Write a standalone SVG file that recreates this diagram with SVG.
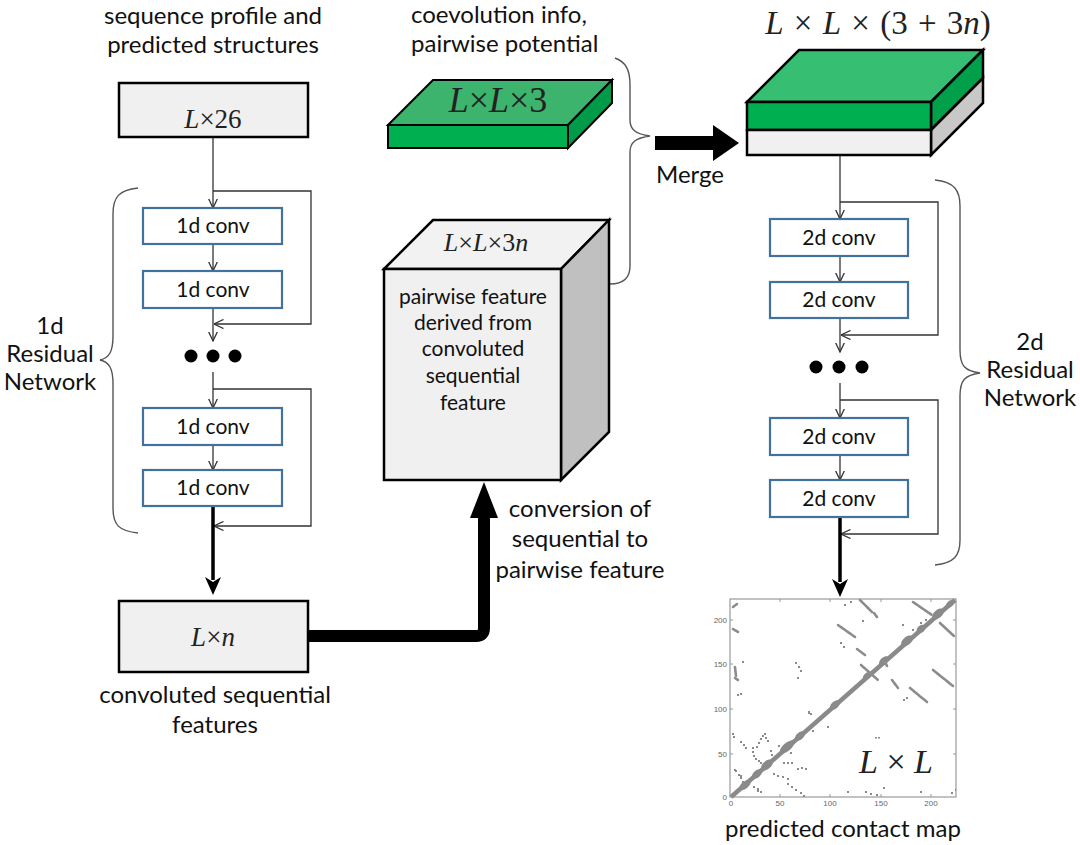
<svg xmlns="http://www.w3.org/2000/svg" width="1080" height="845" viewBox="0 0 1080 845">
<defs>
<style>
.lbl{font-family:Lato,"Liberation Sans",sans-serif;font-size:24px;fill:#111;text-anchor:middle}
.cv{font-family:Lato,"Liberation Sans",sans-serif;font-size:21px;fill:#111;text-anchor:middle}
.math{font-family:"Liberation Serif",serif;fill:#222;text-anchor:middle}
.conv{fill:#fff;stroke:#41719c;stroke-width:2.2}
.gbox{fill:#f0f0f0;stroke:#000;stroke-width:2.5}
.thin{fill:none;stroke:#333;stroke-width:1.3;marker-end:url(#open)}
.brace{fill:none;stroke:#555;stroke-width:1.4}
.strip{stroke:#8c8c8c;stroke-width:2.6;stroke-linecap:round;fill:none;stroke-dasharray:2.5 0.8}
.dot{fill:#8a8a8a}
.ax{font-family:"Liberation Sans",sans-serif;font-size:8px;fill:#666;text-anchor:middle}
</style>
<marker id="open" viewBox="0 0 10 10" refX="9.5" refY="5" markerWidth="10" markerHeight="10" markerUnits="userSpaceOnUse" orient="auto">
<path d="M0,0.5 L9.5,5 L0,9.5" fill="none" stroke="#333" stroke-width="1.3"/>
</marker>
</defs>
<rect width="1080" height="845" fill="#fff"/>

<!-- texts -->
<g id="txt-seq">
<text class="lbl" x="213" y="24">sequence profile and</text>
<text class="lbl" x="213" y="53">predicted structures</text>
</g>
<g id="txt-coev">
<text class="lbl" x="411" y="23" style="text-anchor:start">coevolution info,</text>
<text class="lbl" x="411" y="52" style="text-anchor:start">pairwise potential</text>
</g>
<g id="txt-1dres">
<text class="lbl" x="50" y="334">1d</text>
<text class="lbl" x="50" y="362">Residual</text>
<text class="lbl" x="50" y="390">Network</text>
</g>
<g id="txt-2dres">
<text class="lbl" x="1030" y="350">2d</text>
<text class="lbl" x="1030" y="378">Residual</text>
<text class="lbl" x="1030" y="406">Network</text>
</g>
<g id="txt-merge"><text class="lbl" x="690" y="183">Merge</text></g>
<g id="txt-conversion">
<text class="lbl" x="580" y="517">conversion of</text>
<text class="lbl" x="580" y="547">sequential to</text>
<text class="lbl" x="580" y="578">pairwise feature</text>
</g>
<g id="txt-convseq">
<text class="lbl" x="215" y="703">convoluted sequential</text>
<text class="lbl" x="215" y="733">features</text>
</g>
<g id="txt-contact"><text class="lbl" x="843" y="837">predicted contact map</text></g>

<!-- connectors -->
<g id="connectors">
<line class="thin" x1="213" y1="137" x2="213" y2="208"/>
<line class="thin" x1="213" y1="244" x2="213" y2="271"/>
<line class="thin" x1="213" y1="308" x2="213" y2="341"/>
<path class="thin" d="M213,191 H311 V324 H214"/>
<line class="thin" x1="213" y1="372" x2="213" y2="408"/>
<line class="thin" x1="213" y1="445" x2="213" y2="470"/>
<path class="thin" d="M213,389 H311 V526 H214"/>
<line x1="213" y1="506" x2="213" y2="580" stroke="#000" stroke-width="3.5"/>
<path d="M205,577 L213,595 L221,577 L213,582 Z" fill="#000"/>

<line class="thin" x1="840" y1="155" x2="840" y2="219"/>
<line class="thin" x1="840" y1="256" x2="840" y2="282"/>
<line class="thin" x1="840" y1="318" x2="840" y2="352"/>
<path class="thin" d="M840,202 H938 V335 H841"/>
<line class="thin" x1="840" y1="383" x2="840" y2="418"/>
<line class="thin" x1="840" y1="455" x2="840" y2="480"/>
<path class="thin" d="M840,400 H938 V534 H841"/>
<line x1="840" y1="517" x2="840" y2="582" stroke="#000" stroke-width="3.5"/>
<path d="M832,579 L840,597 L848,579 L840,584 Z" fill="#000"/>

<path d="M308,636 H476 Q484,636 484,628 V514" fill="none" stroke="#000" stroke-width="12"/>
<path d="M470,518 L484,482 L498,518 Z" fill="#000"/>

<path d="M655,136 H713 V125 L739,143 L713,161 V150 H655 Z" fill="#000"/>

<path class="brace" d="M138,188 C119,190 113,197 113,214 L113,336 C113,352 109,358 100,360 C109,362 113,368 113,384 L113,508 C113,525 119,531 138,533"/>
<path class="brace" d="M935,180 C954,182 960,190 960,206 L960,350 C960,366 965,371 980,373 C965,375 960,380 960,396 L960,540 C960,556 954,563 935,565"/>
<path class="brace" d="M615,58 C626,62 630,70 630,85 L630,120 C630,130 636,134 650,136 C636,138 630,142 630,152 L630,266 C630,278 624,284 610,284"/>
</g>

<!-- nodes -->
<g id="n-L26">
<rect class="gbox" x="119" y="83" width="189" height="54"/>
<text class="math" x="213" y="128" font-size="27"><tspan font-style="italic">L</tspan>×26</text>
</g>
<g id="n-1dconv-1"><rect class="conv" x="143" y="208" width="139" height="36"/><text class="cv" x="213" y="233">1d conv</text></g>
<g id="n-1dconv-2"><rect class="conv" x="143" y="271" width="139" height="37"/><text class="cv" x="213" y="297">1d conv</text></g>
<g id="n-1d-dots"><circle cx="191" cy="356" r="6.5" fill="#000"/><circle cx="213" cy="356" r="6.5" fill="#000"/><circle cx="235" cy="356" r="6.5" fill="#000"/></g>
<g id="n-1dconv-3"><rect class="conv" x="143" y="408" width="139" height="37"/><text class="cv" x="213" y="434">1d conv</text></g>
<g id="n-1dconv-4"><rect class="conv" x="143" y="470" width="139" height="36"/><text class="cv" x="213" y="495">1d conv</text></g>
<g id="n-Ln">
<rect class="gbox" x="119" y="601" width="189" height="71"/>
<text class="math" x="213" y="646" font-size="27"><tspan font-style="italic">L</tspan>×<tspan font-style="italic">n</tspan></text>
</g>

<g id="n-LL3">
<polygon points="388,125 433,80 612,80 568,125" fill="#3cb46e" stroke="#000" stroke-width="2"/>
<polygon points="568,125 612,80 612,103 568,148" fill="#009a48" stroke="#000" stroke-width="2"/>
<rect x="388" y="125" width="180" height="23" fill="#00b050" stroke="#000" stroke-width="2"/>
<text class="math" x="498" y="112" font-size="36"><tspan font-style="italic">L</tspan>×<tspan font-style="italic">L</tspan>×3</text>
</g>

<g id="n-LL3n">
<polygon points="384,269 433,220 609,220 561,269" fill="#f2f2f2" stroke="#000" stroke-width="2.5"/>
<polygon points="561,269 609,220 609,432 561,480" fill="#c0c0c0" stroke="#000" stroke-width="2.5"/>
<rect x="384" y="269" width="177" height="211" fill="#f0f0f0" stroke="#000" stroke-width="2.5"/>
<text class="math" x="486" y="251" font-size="26"><tspan font-style="italic">L</tspan>×<tspan font-style="italic">L</tspan>×3<tspan font-style="italic">n</tspan></text>
<text class="cv" x="473" y="304">pairwise feature</text>
<text class="cv" x="473" y="330">derived from</text>
<text class="cv" x="473" y="356">convoluted</text>
<text class="cv" x="473" y="383">sequential</text>
<text class="cv" x="473" y="410">feature</text>
</g>

<g id="n-merged">
<text class="math" x="878" y="34" font-size="33" word-spacing="2"><tspan font-style="italic">L</tspan> × <tspan font-style="italic">L</tspan> × (3 + 3<tspan font-style="italic">n</tspan>)</text>
<polygon points="747,102 799,50 983,50 931,102" fill="#36bf73" stroke="#000" stroke-width="2.5"/>
<polygon points="931,102 983,50 983,78 931,130" fill="#00a04b" stroke="#000" stroke-width="2.5"/>
<polygon points="931,130 983,78 983,103 931,155" fill="#c8c8c8" stroke="#000" stroke-width="2.5"/>
<rect x="747" y="102" width="184" height="28" fill="#00b050" stroke="#000" stroke-width="2.5"/>
<rect x="747" y="130" width="184" height="25" fill="#f0f0f0" stroke="#000" stroke-width="2.5"/>
</g>

<g id="n-2dconv-1"><rect class="conv" x="770" y="219" width="138" height="37"/><text class="cv" x="839" y="245">2d conv</text></g>
<g id="n-2dconv-2"><rect class="conv" x="770" y="282" width="138" height="36"/><text class="cv" x="839" y="307">2d conv</text></g>
<g id="n-2d-dots"><circle cx="816" cy="367" r="6.5" fill="#000"/><circle cx="839" cy="367" r="6.5" fill="#000"/><circle cx="862" cy="367" r="6.5" fill="#000"/></g>
<g id="n-2dconv-3"><rect class="conv" x="770" y="418" width="138" height="37"/><text class="cv" x="839" y="444">2d conv</text></g>
<g id="n-2dconv-4"><rect class="conv" x="770" y="480" width="138" height="37"/><text class="cv" x="839" y="506">2d conv</text></g>

<g id="n-contactmap">
<rect x="730" y="599" width="226" height="198" fill="#fff" stroke="#999" stroke-width="1.2"/>
<g stroke="#999" stroke-width="1">
<line x1="780" y1="599" x2="780" y2="602"/><line x1="830" y1="599" x2="830" y2="602"/><line x1="881" y1="599" x2="881" y2="602"/><line x1="931" y1="599" x2="931" y2="602"/>
<line x1="780" y1="797" x2="780" y2="794"/><line x1="830" y1="797" x2="830" y2="794"/><line x1="881" y1="797" x2="881" y2="794"/><line x1="931" y1="797" x2="931" y2="794"/>
<line x1="730" y1="754" x2="733" y2="754"/><line x1="730" y1="709" x2="733" y2="709"/><line x1="730" y1="664" x2="733" y2="664"/><line x1="730" y1="620" x2="733" y2="620"/>
<line x1="956" y1="754" x2="953" y2="754"/><line x1="956" y1="709" x2="953" y2="709"/><line x1="956" y1="664" x2="953" y2="664"/><line x1="956" y1="620" x2="953" y2="620"/>
</g>
<text class="ax" x="731" y="806">0</text><text class="ax" x="780" y="806">50</text><text class="ax" x="830" y="806">100</text><text class="ax" x="881" y="806">150</text><text class="ax" x="931" y="806">200</text>
<text class="ax" x="727" y="800" style="text-anchor:end">0</text><text class="ax" x="727" y="757" style="text-anchor:end">50</text><text class="ax" x="727" y="712" style="text-anchor:end">100</text><text class="ax" x="727" y="667" style="text-anchor:end">150</text><text class="ax" x="727" y="623" style="text-anchor:end">200</text>
<line x1="731" y1="797" x2="955" y2="600" stroke="#8a8a8a" stroke-width="4.5"/>
<g fill="#8a8a8a">
<ellipse cx="745" cy="785" rx="7" ry="3.5" transform="rotate(-41 745 785)"/>
<ellipse cx="757" cy="774" rx="6" ry="3.5" transform="rotate(-41 757 774)"/>
<ellipse cx="767" cy="765" rx="7" ry="4" transform="rotate(-41 767 765)"/>
<ellipse cx="787" cy="747" rx="9" ry="4" transform="rotate(-41 787 747)"/>
<ellipse cx="800" cy="736" rx="6" ry="3.5" transform="rotate(-41 800 736)"/>
<ellipse cx="835" cy="705" rx="6" ry="3.5" transform="rotate(-41 835 705)"/>
<ellipse cx="867" cy="676" rx="5" ry="3" transform="rotate(-41 867 676)"/>
<ellipse cx="884" cy="661" rx="6" ry="3.5" transform="rotate(-41 884 661)"/>
<ellipse cx="907" cy="641" rx="7" ry="4" transform="rotate(-41 907 641)"/>
<ellipse cx="921" cy="629" rx="5" ry="3.5" transform="rotate(-41 921 629)"/>
<ellipse cx="938" cy="614" rx="7" ry="4" transform="rotate(-41 938 614)"/>
<ellipse cx="950" cy="604" rx="5" ry="3" transform="rotate(-41 950 604)"/>
</g>
<g class="strip">
<line x1="860" y1="600" x2="872" y2="612"/><line x1="874" y1="613" x2="877" y2="617"/>
<line x1="913" y1="602" x2="932" y2="615"/><line x1="838" y1="625" x2="855" y2="637"/>
<line x1="857" y1="649" x2="865" y2="655"/><line x1="940" y1="623" x2="954" y2="636"/>
<line x1="861" y1="665" x2="878" y2="680"/><line x1="933" y1="670" x2="953" y2="686"/>
<line x1="910" y1="688" x2="927" y2="702"/><line x1="892" y1="680" x2="898" y2="688"/>
<line x1="884" y1="660" x2="887" y2="666"/><line x1="733" y1="607" x2="737" y2="604"/>
<line x1="733" y1="629" x2="738" y2="632"/><line x1="735" y1="667" x2="736" y2="676"/>
<line x1="735" y1="678" x2="738" y2="680"/>
</g>
<g class="dot">
<rect x="844" y="604" width="2" height="2"/><rect x="850" y="601" width="2" height="2"/><rect x="862" y="620" width="2" height="2"/><rect x="840" y="642" width="2" height="2"/><rect x="843" y="646" width="2" height="2"/>
<rect x="902" y="624" width="2" height="2"/><rect x="912" y="629" width="2" height="2"/><rect x="916" y="632" width="2" height="2"/><rect x="903" y="699" width="2" height="2"/><rect x="906" y="697" width="2" height="2"/>
<rect x="920" y="622" width="2" height="2"/><rect x="925" y="619" width="2" height="2"/><rect x="795" y="662" width="2" height="2"/><rect x="798" y="666" width="2" height="2"/><rect x="800" y="670" width="2" height="2"/>
<rect x="797" y="677" width="2" height="2"/><rect x="742" y="661" width="2" height="2"/><rect x="737" y="694" width="2" height="2"/><rect x="740" y="693" width="2" height="2"/><rect x="808" y="711" width="2" height="3"/>
<rect x="810" y="713" width="2" height="2"/><rect x="827" y="726" width="2" height="2"/><rect x="875" y="737" width="2" height="1.5"/><rect x="878" y="737" width="2" height="1.5"/><rect x="847" y="791" width="2" height="2"/>
<rect x="865" y="791" width="2" height="2"/><rect x="870" y="793" width="2" height="2"/><rect x="876" y="794" width="2" height="2"/><rect x="883" y="787" width="2" height="2"/><rect x="920" y="791" width="2" height="2"/>
<rect x="951" y="792" width="2" height="2"/><rect x="955" y="789" width="1" height="2"/><rect x="753" y="786" width="2" height="2"/><rect x="757" y="788" width="2" height="2"/><rect x="760" y="791" width="2" height="2"/>
<rect x="734" y="769" width="2" height="2"/><rect x="738" y="774" width="2" height="2"/><rect x="740" y="777" width="2" height="2"/>
<rect x="732" y="733" width="2" height="2"/><rect x="733" y="736" width="2" height="2"/><rect x="740" y="741" width="2" height="2"/><rect x="743" y="744" width="2" height="2"/><rect x="745" y="747" width="2" height="2"/>
<rect x="752" y="747" width="2" height="2"/><rect x="752" y="751" width="2" height="2"/><rect x="753" y="755" width="2" height="2"/><rect x="756" y="746" width="2" height="2"/><rect x="758" y="742" width="2" height="2"/>
<rect x="760" y="738" width="2" height="2"/><rect x="762" y="735" width="2" height="2"/><rect x="765" y="737" width="2" height="2"/><rect x="764" y="733" width="2" height="2"/><rect x="755" y="758" width="2" height="2"/>
<rect x="758" y="760" width="2" height="2"/><rect x="760" y="762" width="2" height="2"/><rect x="770" y="750" width="2" height="2"/><rect x="771" y="754" width="2" height="2"/><rect x="772" y="758" width="2" height="2"/>
<rect x="783" y="762" width="2" height="2"/><rect x="787" y="762" width="2" height="2"/><rect x="791" y="762" width="2" height="2"/><rect x="797" y="768" width="2" height="2"/><rect x="801" y="767" width="2" height="2"/>
<rect x="805" y="768" width="2" height="2"/><rect x="773" y="773" width="2" height="2"/><rect x="777" y="775" width="2" height="2"/><rect x="782" y="776" width="2" height="2"/><rect x="787" y="778" width="2" height="2"/>
<rect x="787" y="783" width="2" height="2"/><rect x="791" y="786" width="2" height="2"/><rect x="795" y="789" width="2" height="2"/><rect x="740" y="775" width="2" height="2"/><rect x="742" y="781" width="2" height="2"/>
<rect x="748" y="783" width="2" height="2"/><rect x="757" y="790" width="2" height="2"/><rect x="735" y="770" width="2" height="2"/><rect x="800" y="792" width="2" height="2"/><rect x="803" y="795" width="2" height="2"/>
<rect x="788" y="748" width="2" height="2"/><rect x="790" y="752" width="2" height="2"/><rect x="767" y="740" width="2" height="2"/><rect x="778" y="745" width="2" height="2"/><rect x="812" y="730" width="2" height="2"/>
</g>
<text class="math" x="896" y="773" font-size="34"><tspan font-style="italic">L</tspan> × <tspan font-style="italic">L</tspan></text>
</g>
</svg>
